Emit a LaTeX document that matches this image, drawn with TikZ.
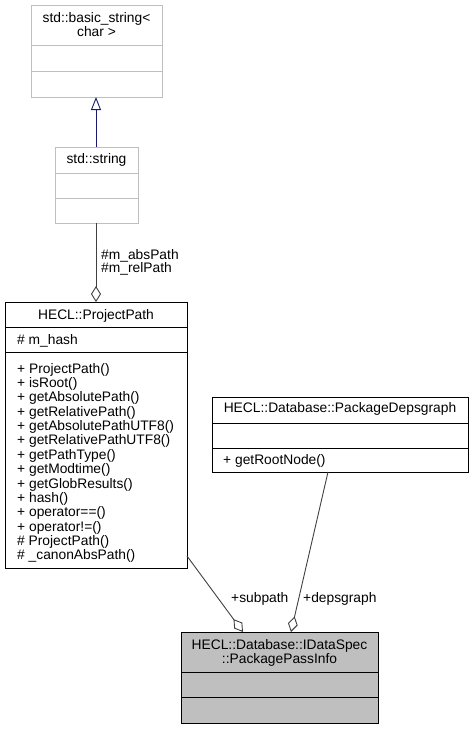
\documentclass[tikz,border=0pt]{standalone}
\usepackage{fontspec}
\setmainfont{Liberation Sans}
\usetikzlibrary{arrows.meta}
\definecolor{boxgray}{HTML}{BFBFBF}
\definecolor{edgegray}{HTML}{404040}
\definecolor{inhblue}{HTML}{191970}
\begin{document}
\begin{tikzpicture}[x=1pt,y=-1pt,
  cls/.style={draw=black, line width=0.9pt, fill=white, inner sep=0, anchor=north west},
  clsgray/.style={cls, draw=boxgray},
  clshl/.style={cls, fill=boxgray},
  txt/.style={inner sep=0, font=\fontsize{13.8}{14.4}\selectfont},
  divider/.style={line width=0.9pt},
  inh/.style={draw=inhblue, line width=0.9pt, -{Triangle[open, length=13pt, width=10pt]}},
  agg/.style={draw=edgegray, line width=0.9pt, -{Diamond[open, length=16pt, width=10pt]}}
]
\useasboundingbox (0,0) rectangle (474,729);

% std::basic_string<char>
\node[clsgray, minimum width=131, minimum height=92] (bs) at (31,5) {};
\draw[divider, boxgray] (31,45) -- (162,45) (31,71) -- (162,71);
\node[txt, anchor=base] (bsT1) at (96.5,22) {std::basic\_string<};
\node[txt, anchor=base] (bsT2) at (96.5,36.5) {char >};

% std::string
\node[clsgray, minimum width=83, minimum height=76] (str) at (55,147) {};
\draw[divider, boxgray] (55,173) -- (138,173) (55,198) -- (138,198);
\node[txt, anchor=base] (strT) at (96.5,163) {std::string};

% HECL::ProjectPath
\node[cls, minimum width=182, minimum height=266] (pp) at (5,302) {};
\draw[divider] (5,327) -- (187,327) (5,352) -- (187,352);
\node[txt, anchor=base] (ppT) at (96,319) {HECL::ProjectPath};
\node[txt, anchor=base west] (ppA) at (17,344) {\# m\_hash};
\foreach \t [count=\i from 0] in {+ ProjectPath(), + isRoot(), + getAbsolutePath(), + getRelativePath(), + getAbsolutePathUTF8(), + getRelativePathUTF8(), + getPathType(), + getModtime(), + getGlobResults(), + hash(), + operator==(), + operator!=(), \# ProjectPath(), \# \_canonAbsPath()}
  \node[txt, anchor=base west] (ppM\i) at (17,{373+14.38*\i}) {\t};

% HECL::Database::PackageDepsgraph
\node[cls, minimum width=256, minimum height=75] (dg) at (212,397) {};
\draw[divider] (212,423) -- (468,423) (212,448) -- (468,448);
\node[txt, anchor=base] (dgT) at (340,412) {HECL::Database::PackageDepsgraph};
\node[txt, anchor=base west] (dgM) at (223,464) {+ getRootNode()};

% HECL::Database::IDataSpec::PackagePassInfo
\node[clshl, minimum width=197, minimum height=91] (ppi) at (181,632) {};
\draw[divider] (181,672) -- (378,672) (181,697) -- (378,697);
\node[txt, anchor=base] (ppiT1) at (279.5,649) {HECL::Database::IDataSpec};
\node[txt, anchor=base] (ppiT2) at (279.5,663) {::PackagePassInfo};

% connector end points
\coordinate (strTop) at (96,147);
\coordinate (bsBot) at (96,97);
\coordinate (strBot) at (96,223);
\coordinate (ppTop) at (96,302);
\coordinate (ppR) at (187,556);
\coordinate (ppiA) at (243,632);
\coordinate (dgB) at (328,472);
\coordinate (ppiB) at (291,632);

% edges
\draw[inh] (strTop) -- (bsBot);
\draw[agg] (strBot) -- (ppTop);
\draw[agg] (ppR) -- (ppiA);
\draw[agg] (dgB) -- (ppiB);

% labels
\node[txt, anchor=base west] (lab1) at (101,259) {\#m\_absPath};
\node[txt, anchor=base west] (lab2) at (101,272) {\#m\_relPath};
\node[txt, anchor=base west] (lab3) at (231,602) {+subpath};
\node[txt, anchor=base west] (lab4) at (303,602) {+depsgraph};
\end{tikzpicture}
\end{document}
